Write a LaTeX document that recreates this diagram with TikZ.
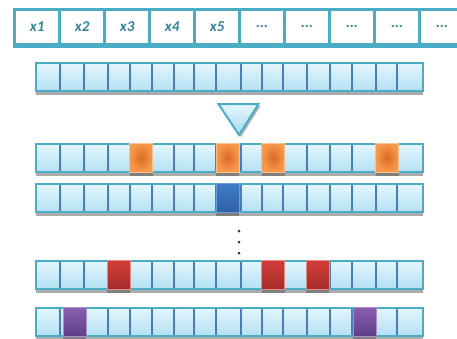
\documentclass[tikz,border=0pt]{standalone}
\usepackage{fontspec}
\setmainfont{Carlito}
\usetikzlibrary{shadows}

\definecolor{rim}{HTML}{4BACC6}
\definecolor{ink}{HTML}{31849B}
\definecolor{cut}{HTML}{4A7EBB}
\definecolor{iceTop}{HTML}{E4F6FD}
\definecolor{iceBot}{HTML}{B3E0F3}
\definecolor{oraIn}{HTML}{DC6A24}
\definecolor{oraOut}{HTML}{F79A4C}
\definecolor{oraRim}{HTML}{FBC190}
\definecolor{bluTop}{HTML}{3F7DC6}
\definecolor{bluBot}{HTML}{2E61A6}
\definecolor{bluRim}{HTML}{6E9DD3}
\definecolor{redTop}{HTML}{D43E3A}
\definecolor{redBot}{HTML}{A62C29}
\definecolor{redRim}{HTML}{E38C89}
\definecolor{purTop}{HTML}{8A60B0}
\definecolor{purBot}{HTML}{5F3F88}
\definecolor{purRim}{HTML}{A990C6}
\definecolor{triTop}{HTML}{E6F6FC}
\definecolor{triBot}{HTML}{A6DAF0}

\tikzset{
  head/.style={fill=white, inner sep=0pt, minimum width=42.3pt, minimum height=31.7pt,
    text=ink, font=\fontsize{15}{15}\selectfont\bfseries\itshape},
  strip/.style={top color=iceTop, bottom color=iceBot, draw=rim, line width=2pt,
    inner sep=0pt, minimum width=387pt, minimum height=28pt,
    drop shadow={shadow xshift=0pt, shadow yshift=-4pt, fill=black!33, opacity=1}},
  divide/.style={cut, line width=2.8pt},
  hit/.style={inner sep=0pt, minimum width=23pt, minimum height=29pt, line width=1pt,
    drop shadow={shadow xshift=0pt, shadow yshift=-4pt, fill=black!50, opacity=1}},
  ora/.style={hit, inner color=oraIn, outer color=oraOut, draw=oraRim},
  blu/.style={hit, top color=bluTop, bottom color=bluBot, draw=bluRim},
  red/.style={hit, top color=redTop, bottom color=redBot, draw=redRim},
  pur/.style={hit, top color=purTop, bottom color=purBot, draw=purRim},
}

\begin{document}
\begin{tikzpicture}[x=1pt, y=-1pt]
  \useasboundingbox (0,0) rectangle (457,338);
  \clip (0,0) rectangle (457,338);

  % header with the inputs
  \fill[rim] (13.3,8) rectangle (470,48.3);
  \foreach \i in {1,...,5}
    \node[head] (h\i) at ({37.15+45*(\i-1)},26.9) {x\i};
  \foreach \i in {6,...,10}
    \node[head] (h\i) at ({37.15+45*(\i-1)},26.9) {...};

  % arrays
  \foreach \r/\y in {r1/77, r2/158, r3/198, r4/275, r5/322} {
    \node[strip] (\r) at (229.5,\y) {};
    \foreach \x in {60,84,108,130,152,174,194,216,241,262,283,307,330,352,376,397}
      \draw[divide] (\x,\y-13) -- (\x,\y+13);
  }

  \path[top color=triTop, bottom color=triBot, draw=rim, line width=2pt,
    drop shadow={shadow xshift=2pt, shadow yshift=-2pt, fill=black!30, opacity=1}]
    (218.5,104) -- (258.5,104) -- (239,135) -- cycle;

  \node[ora] (o1) at (141.3,157.5) {};
  \node[ora] (o2) at (227.5,157.5) {};
  \node[ora] (o3) at (273.3,157.5) {};
  \node[ora] (o4) at (387,157.5) {};
  \node[blu] (b1) at (227.8,197.5) {};
  \node[red] (d1) at (118.8,274.5) {};
  \node[red] (d2) at (273.3,274.5) {};
  \node[red] (d3) at (317.8,274.5) {};
  \node[pur] (p1) at (74.7,321.5) {};
  \node[pur] (p2) at (364.7,321.5) {};

  \foreach \y in {231,242,253}
    \fill[black!80] (239,\y) circle (1.5);
\end{tikzpicture}
\end{document}
